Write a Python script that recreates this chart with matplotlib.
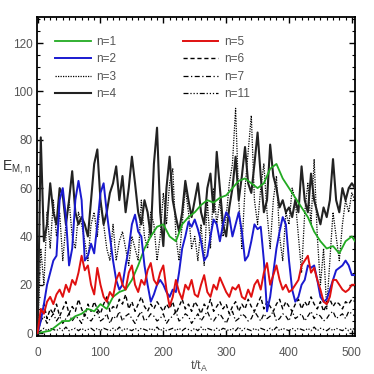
import numpy as np
import matplotlib
matplotlib.use("Agg")
import matplotlib.pyplot as plt
from matplotlib.ticker import MultipleLocator

plt.rcParams['font.family'] = ['Liberation Sans', 'DejaVu Sans']
plt.rcParams['mathtext.default'] = 'regular'

# time grid (t/t_A)
t5 = list(range(0, 506, 5))
t10 = list(range(0, 501, 10)) + [505]

n4 = [0, 81, 38, 45, 62, 50, 45, 60, 57, 45, 55, 67, 50, 45, 48, 45, 40, 55, 70, 76,
      55, 45, 50, 58, 62, 69, 55, 65, 50, 60, 73, 62, 50, 45, 55, 50, 40, 70, 85, 50,
      36, 60, 73, 55, 48, 42, 50, 63, 55, 48, 55, 62, 50, 45, 60, 66, 50, 75, 60, 45,
      40, 52, 60, 73, 55, 65, 77, 62, 58, 70, 83, 65, 50, 55, 78, 65, 60, 52, 55, 50,
      52, 48, 55, 50, 69, 55, 50, 66, 55, 50, 45, 52, 48, 55, 72, 55, 50, 60, 55, 60,
      62, 60]
n3 = [0, 35, 20, 50, 35, 55, 40, 50, 30, 45, 55, 40, 35, 50, 45, 38, 30, 45, 50, 40,
      55, 45, 35, 30, 45, 30, 38, 42, 35, 28, 40, 35, 30, 55, 40, 35, 50, 45, 30, 40,
      58, 45, 62, 68, 40, 30, 45, 60, 50, 35, 40, 30, 45, 28, 55, 35, 60, 45, 55, 40,
      48, 62, 70, 93, 55, 35, 60, 75, 90, 55, 45, 60, 70, 50, 35, 55, 65, 40, 30, 50,
      45, 60, 55, 40, 25, 50, 62, 45, 72, 40, 20, 35, 10, 30, 50, 40, 30, 45, 55, 50,
      58, 55]
n2 = [0, 5, 12, 20, 25, 30, 32, 55, 60, 48, 28, 35, 55, 63, 55, 30, 32, 37, 33, 45,
      58, 62, 50, 40, 30, 22, 18, 20, 28, 35, 45, 49, 42, 40, 28, 20, 13, 16, 20, 22,
      20, 17, 15, 18, 17, 25, 35, 40, 46, 44, 47, 43, 38, 30, 32, 40, 47, 45, 38, 45,
      50, 48, 40, 45, 50, 42, 30, 32, 38, 45, 43, 44, 30, 9, 15, 25, 35, 42, 48, 45,
      30, 18, 13, 15, 20, 22, 28, 27, 28, 22, 15, 13, 14, 18, 22, 26, 27, 28, 30, 28,
      24, 24]
n5 = [0, 10, 8, 13, 15, 12, 16, 18, 15, 20, 17, 22, 20, 25, 32, 26, 28, 20, 16, 27,
      20, 15, 13, 17, 15, 22, 25, 20, 18, 25, 28, 20, 17, 22, 20, 26, 29, 22, 20, 25,
      28, 18, 11, 15, 22, 17, 14, 20, 18, 22, 16, 15, 20, 24, 17, 15, 20, 18, 23, 20,
      17, 15, 19, 18, 20, 15, 14, 18, 15, 20, 22, 18, 25, 29, 20, 24, 28, 22, 18, 20,
      17, 18, 20, 22, 28, 30, 32, 25, 27, 22, 18, 13, 12, 15, 22, 22, 20, 18, 17, 18,
      20, 20]
n1 = [0, 0.5, 1, 3, 5, 5, 7, 8, 10, 9, 12, 10, 15, 17, 18, 22, 28, 35, 40, 44,
      45, 40, 38, 45, 48, 50, 53, 55, 54, 56, 57, 60, 63, 64, 62, 60, 62, 68, 70, 64,
      60, 56, 52, 48, 42, 38, 35, 36, 33, 38, 40, 38]
n6 = [0, 8, 12, 6, 10, 8, 12, 7, 10, 13, 8, 11, 9, 14, 10, 7, 12, 9, 13, 10,
      8, 12, 15, 9, 11, 10, 14, 12, 16, 10, 13, 9, 12, 15, 11, 9, 12, 10, 13, 11,
      9, 12, 10, 13, 8, 11, 14, 10, 12, 9, 13, 11, 8, 12, 10, 14, 9, 11, 13, 10,
      12, 8, 11, 13, 9, 12, 10, 14, 11, 9, 12, 15, 10, 13, 11, 9, 12, 14, 10, 13,
      11, 9, 12, 14, 10, 13, 11, 15, 12, 10, 13, 9, 12, 14, 11, 13, 12, 10, 13, 12,
      14, 13]
n7 = [0, 5, 7, 4, 6, 8, 5, 7, 4, 6, 8, 5, 7, 6, 4, 8, 6, 5, 7, 9,
      5, 6, 8, 4, 7, 6, 9, 5, 7, 8, 6, 4, 7, 9, 5, 6, 8, 7, 5, 6,
      8, 4, 6, 7, 9, 5, 6, 8, 7, 4, 6, 8, 5, 7, 9, 6, 5, 7, 8, 6,
      4, 7, 9, 5, 6, 8, 7, 5, 6, 9, 7, 5, 8, 6, 7, 9, 5, 6, 8, 7,
      5, 9, 6, 7, 8, 5, 7, 9, 6, 8, 7, 5, 6, 8, 9, 6, 7, 8, 6, 9,
      8, 7]
n11 = [0, 1, 2, 1, 2, 1.5, 1, 2, 1, 2.5, 1, 1.5, 2, 1, 2, 1, 1.5, 2, 1, 2,
       1, 2, 1.5, 1, 2, 1, 2.5, 1, 2, 1.5, 1, 2, 1, 2, 1.5, 1, 2, 1, 2.5, 1,
       2, 1, 1.5, 2, 1, 2, 1, 2, 1.5, 1, 2, 1, 2.5, 1, 2, 1.5, 1, 2, 1, 2,
       1.5, 1, 2, 1, 2.5, 1, 2, 1.5, 1, 2, 1, 2, 1.5, 1, 2, 1, 2.5, 1, 2, 1.5,
       1, 2, 1, 2, 1.5, 1, 2, 1, 2.5, 1, 2, 1.5, 1, 2, 1, 2, 1.5, 1, 2, 1,
       2, 1.5]

xticks = [0, 100, 200, 300, 400, 500]
yticks = [0, 20, 40, 60, 80, 100, 120]

W = 374
fig = plt.figure(figsize=(3.74, 3.74), dpi=100)
ax = fig.add_axes([37 / W, (W - 336) / W, (355 - 37) / W, (336 - 17) / W])

gray = '#555555'
ax.plot(t5, n11, color='black', lw=0.9, ls=(0, (4, 1.5, 1, 1.5, 1, 1.5, 1, 1.5)), label='n=11', zorder=2)
ax.plot(t5, n7, color='black', lw=0.9, ls=(0, (4, 2, 1, 2)), label='n=7', zorder=2)
ax.plot(t5, n6, color='black', lw=1.0, ls=(0, (3, 2)), label='n=6', zorder=2)
ax.plot(t5, n3, color='black', lw=0.9, ls=(0, (1, 1)), label='n=3', zorder=3)
ax.plot(t5, n4, color='#222222', lw=1.5, label='n=4', zorder=4)
ax.plot(t10, n1, color='#22aa22', lw=1.3, label='n=1', zorder=5)
ax.plot(t5, n2, color='#1a1ad0', lw=1.4, label='n=2', zorder=6)
ax.plot(t5, n5, color='#e01010', lw=1.4, label='n=5', zorder=7)

ax.set_xlim(-1, 505)
ax.set_ylim(-1.2, 130.8)
ax.set_xticks(xticks)
ax.set_yticks(yticks)
ax.xaxis.set_minor_locator(MultipleLocator(10))
ax.yaxis.set_minor_locator(MultipleLocator(5))
ax.tick_params(which='both', direction='in', top=True, right=True, colors='black',
               labelcolor=gray, labelsize=8.5)
ax.tick_params(which='major', length=4, width=1)
ax.tick_params(which='minor', length=2, width=0.8)
ax.tick_params(axis='x', pad=8)
ax.tick_params(axis='y', pad=3)
for s in ax.spines.values():
    s.set_linewidth(1.3)

handles, labels = ax.get_legend_handles_labels()
order = ['n=1', 'n=2', 'n=3', 'n=4', 'n=5', 'n=6', 'n=7', 'n=11']
hmap = dict(zip(labels, handles))
leg = ax.legend([hmap[k] for k in order], order, ncol=2, loc='upper left',
                bbox_to_anchor=(0.057, 0.94), frameon=False, fontsize=8.5,
                handlelength=3.0, handletextpad=0.5, columnspacing=5.6,
                labelspacing=0.45, borderpad=0, borderaxespad=0)
for txt in leg.get_texts():
    txt.set_color(gray)

fig.text(199 / W, 1 - 366 / W, 't/t$_A$', ha='center', va='center', color=gray, fontsize=9)
fig.text(2 / W, 1 - 167 / W, 'E$_{M,n}$', ha='left', va='center', color='#333333', fontsize=10)

fig.savefig('out.png', dpi=100)
